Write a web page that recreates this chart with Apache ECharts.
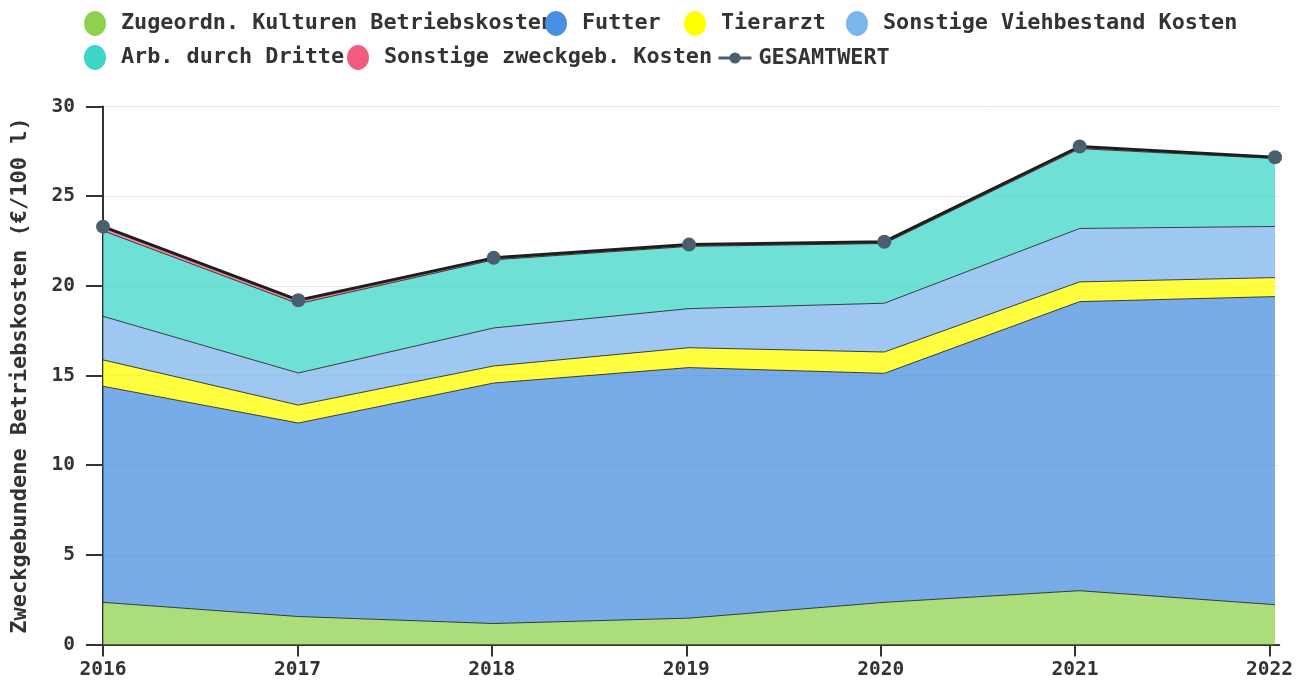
<!DOCTYPE html>
<html>
<head>
<meta charset="utf-8">
<title>Zweckgebundene Betriebskosten</title>
<script src="https://cdn.jsdelivr.net/npm/echarts@6/dist/echarts.min.js"></script>
<style>
  html, body { margin: 0; padding: 0; background: #fff; }
  #chart { width: 1296px; height: 684px; }
</style>
</head>
<body>
<div id="chart"></div>
<script>
// Jahre und Kostenanteile in €/100 l
const years = [2016, 2017, 2018, 2019, 2020, 2021, 2022];
const yearLabels = years.map(String);
const kulturen   = [2.35, 1.56, 1.17, 1.47, 2.35, 3.00, 2.22];
const futter     = [12.05, 10.79, 13.41, 13.97, 12.77, 16.12, 17.18];
const tierarzt   = [1.47, 1.00, 0.95, 1.11, 1.19, 1.10, 1.06];
const viehSonst  = [2.43, 1.79, 2.12, 2.18, 2.72, 2.98, 2.85];
const dritte     = [4.77, 3.86, 3.80, 3.47, 3.33, 4.45, 3.79];
const zweckSonst = [0.23, 0.20, 0.11, 0.10, 0.10, 0.12, 0.07];
const gesamt     = [23.30, 19.20, 21.56, 22.30, 22.46, 27.77, 27.17];
const yTicks = [0, 5, 10, 15, 20, 25, 30];

const FONT = 'DejaVu Sans Mono';
const ELLIPSE = 'path://M11,0A11,12.5,0,1,1,11,25A11,12.5,0,1,1,11,0Z';
const INK = '#333';

const areaDefs = [
  { name: 'Zugeordn. Kulturen Betriebskosten', color: '#8fd14f', values: kulturen },
  { name: 'Futter', color: '#4a90e2', values: futter },
  { name: 'Tierarzt', color: '#ffff00', values: tierarzt },
  { name: 'Sonstige Viehbestand Kosten', color: '#7db6ec', values: viehSonst },
  { name: 'Arb. durch Dritte', color: '#3dd6c8', values: dritte },
  { name: 'Sonstige zweckgeb. Kosten', color: '#f25c80', values: zweckSonst }
];

// Stacked areas live on the inner grid (category axis, first/last year at its edges)
const series = areaDefs.map(d => ({
  name: d.name,
  type: 'line',
  xAxisIndex: 1,
  yAxisIndex: 1,
  stack: 'kosten',
  data: d.values,
  showSymbol: false,
  symbol: 'none',
  color: d.color,
  lineStyle: { color: '#222', width: 1, opacity: 0.85 },
  areaStyle: { color: d.color, opacity: 0.75 },
  emphasis: { disabled: true },
  z: 2
}));

series.push({
  name: 'GESAMTWERT',
  type: 'line',
  xAxisIndex: 1,
  yAxisIndex: 1,
  data: gesamt,
  symbol: 'circle',
  symbolSize: 14,
  color: '#4a5f6e',
  itemStyle: { color: '#4a5f6e' },
  lineStyle: { color: '#1e1e1e', width: 3 },
  emphasis: { disabled: true },
  z: 5
});

// Legend entries, one component each, laid out in two rows
const legendPos = [
  { name: 'Zugeordn. Kulturen Betriebskosten', left: 84, top: 11 },
  { name: 'Futter', left: 545, top: 11 },
  { name: 'Tierarzt', left: 684, top: 11 },
  { name: 'Sonstige Viehbestand Kosten', left: 846, top: 11 },
  { name: 'Arb. durch Dritte', left: 84, top: 45 },
  { name: 'Sonstige zweckgeb. Kosten', left: 347, top: 45 }
];
const legendText = { fontFamily: FONT, fontSize: 21.8, fontWeight: 'bold', color: INK };
const legends = legendPos.map(p => ({
  data: [p.name],
  left: p.left,
  top: p.top,
  padding: 0,
  icon: ELLIPSE,
  itemWidth: 40,
  itemHeight: 25,
  itemGap: 0,
  selectedMode: false,
  textStyle: Object.assign({}, legendText, { padding: [0, 0, 0, 1] })
}));
legends.push({
  data: [{ name: 'GESAMTWERT', itemStyle: { color: '#4a5f6e' }, lineStyle: { color: '#4a5f6e', width: 3 } }],
  left: 717,
  top: 47,
  padding: 0,
  itemWidth: 33,
  itemHeight: 14,
  selectedMode: false,
  textStyle: Object.assign({}, legendText, { padding: [0, 0, 0, 2] })
});

const axisLabelStyle = { fontFamily: FONT, fontSize: 19.5, fontWeight: 'bold', color: INK };

const option = {
  animation: false,
  backgroundColor: '#fff',
  legend: legends,
  grid: [
    { left: 103, right: 11, top: 106.5, bottom: 39.5, containLabel: false },
    { left: 103, right: 21, top: 106.5, bottom: 39.5, containLabel: false }
  ],
  xAxis: [
    {
      // visible year axis, runs a little past the last year
      gridIndex: 0,
      type: 'value',
      min: 2016,
      max: 2022.05,
      interval: 1,
      axisLine: { lineStyle: { color: INK, width: 2 } },
      axisTick: { show: true, length: 12, lineStyle: { color: INK, width: 2 }, customValues: years },
      axisLabel: Object.assign({ customValues: years, margin: 15, formatter: v => String(v) }, axisLabelStyle),
      splitLine: { show: false }
    },
    {
      gridIndex: 1,
      type: 'category',
      data: yearLabels,
      boundaryGap: false,
      show: false
    }
  ],
  yAxis: [
    {
      gridIndex: 0,
      type: 'value',
      min: yTicks[0],
      max: yTicks[yTicks.length - 1],
      interval: 5,
      name: 'Zweckgebundene Betriebskosten (€/100 l)',
      nameLocation: 'middle',
      nameGap: 72,
      nameRotate: 90,
      nameTextStyle: { fontFamily: FONT, fontSize: 22, fontWeight: 'bold', color: INK },
      axisLine: { show: true, lineStyle: { color: INK, width: 2 } },
      axisTick: { show: true, length: 17, lineStyle: { color: INK, width: 2 } },
      axisLabel: Object.assign({ margin: 28 }, axisLabelStyle),
      splitLine: { show: true, lineStyle: { color: '#e6e6e6', width: 1 } }
    },
    {
      gridIndex: 1,
      type: 'value',
      min: yTicks[0],
      max: yTicks[yTicks.length - 1],
      interval: 5,
      show: false,
      splitLine: { show: false }
    }
  ],
  series: series
};

const chart = echarts.init(document.getElementById('chart'), null, { renderer: 'canvas' });
chart.setOption(option);
</script>
</body>
</html>
